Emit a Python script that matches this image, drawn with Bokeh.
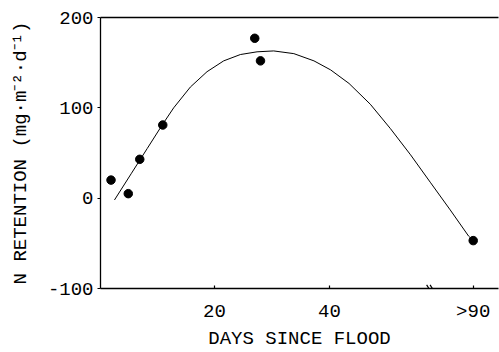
from bokeh.plotting import figure
from bokeh.models import Range1d, LinearAxis, FixedTicker, Arrow
from bokeh.embed import file_html
from bokeh.resources import INLINE

# Observed points (x position on the axis; ">90" is drawn at axis position 65)
obs_x = [2, 5, 7, 11, 27, 28, 65]
obs_y = [20, 5, 43, 81, 177, 152, -47]

# Fitted curve
fit_x = [2.6, 5.5, 8.3, 10.9, 12.9, 15.8, 18.7, 21.6, 24.5, 27.4, 30.3, 33.8, 37.3,
         40.2, 43.4, 47.1, 50.6, 54.1, 57.6, 61.0, 64.2, 65.0]
fit_y = [-2, 27, 55, 81, 100, 123, 140, 152, 159, 162, 163, 160, 152,
         142, 127, 104, 77, 48, 17, -13, -42, -47]

x_ticks = [20, 40, 65]
x_tick_labels = ["20", "40", ">90"]
y_ticks = [-100, 0, 100, 200]
y_tick_labels = ["-100", "0", "100", "200"]
break_at = 57.6

FONT = "Liberation Mono"

p = figure(width=499, height=352, output_backend="svg", toolbar_location=None,
           x_range=Range1d(0.17, 69.4), y_range=Range1d(-100, 200),
           min_border_left=100, min_border_right=1, min_border_top=17,
           min_border_bottom=64)
p.outline_line_color = None
p.grid.grid_line_color = None
p.background_fill_color = "white"
p.border_fill_color = "white"

p.line(fit_x, fit_y, line_color="black", line_width=1)
p.scatter(obs_x, obs_y, size=8.5, fill_color="black", line_color="black")

xa = p.xaxis[0]
xa.ticker = FixedTicker(ticks=x_ticks)
xa.major_label_overrides = {t: l for t, l in zip(x_ticks, x_tick_labels)}
xa.major_tick_in = 3
xa.major_tick_out = 0
xa.minor_tick_line_color = None
xa.major_label_standoff = 12
xa.axis_label = "DAYS SINCE FLOOD"
xa.axis_label_standoff = 2

ya = p.yaxis[0]
ya.ticker = FixedTicker(ticks=y_ticks)
ya.major_label_overrides = {t: l for t, l in zip(y_ticks, y_tick_labels)}
ya.major_tick_in = 0
ya.major_tick_out = 3
ya.minor_tick_line_color = None
ya.major_label_standoff = 4
ya.axis_label = "N RETENTION (mg\u00b7m\u207b\u00b2\u00b7d\u207b\u00b9)"
ya.axis_label_standoff = 13

for ax in (xa, ya):
    ax.axis_line_color = "black"
    ax.axis_line_width = 1.3
    ax.major_tick_line_color = "black"
    ax.major_tick_line_width = 1.2
    ax.major_label_text_font = FONT
    ax.major_label_text_font_size = "19px"
    ax.major_label_text_color = "black"
    ax.axis_label_text_font = FONT
    ax.axis_label_text_font_size = "19px"
    ax.axis_label_text_font_style = "normal"
    ax.axis_label_text_color = "black"

top = LinearAxis(ticker=FixedTicker(ticks=[]), axis_line_color="black",
                 axis_line_width=1.3, major_tick_line_color=None,
                 minor_tick_line_color=None, major_label_text_font_size="0px")
p.add_layout(top, "above")

# axis break mark "\\"
for dx in (-0.3, 0.3):
    p.add_layout(Arrow(end=None, x_start=break_at + dx - 0.4, y_start=-96,
                       x_end=break_at + dx + 0.4, y_end=-104,
                       line_color="black", line_width=1.2))

open("out.html", "w").write(file_html(p, INLINE))
